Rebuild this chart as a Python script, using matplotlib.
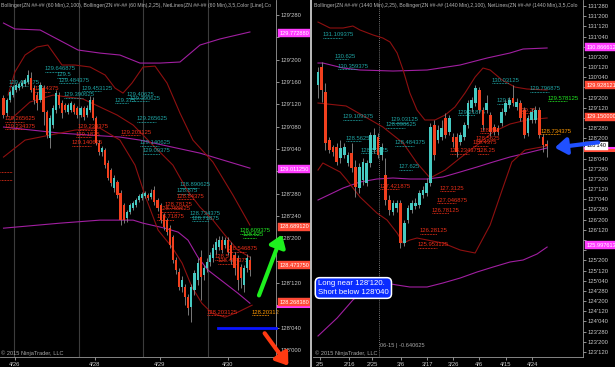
#============================IMPORTS================================
import matplotlib
matplotlib.use("Agg")
import matplotlib.pyplot as plt
import matplotlib.transforms as mtransforms
from matplotlib.patches import FancyArrowPatch
from matplotlib.lines import Line2D
import numpy as np

plt.rcParams['font.family'] = ['Liberation Sans', 'DejaVu Sans']

#============================DATA===================================
# 60 min chart (left) - one entry per bar
left_open = [129.410, 129.326, 129.399, 129.427, 129.455, 129.466, 129.477, 129.489, 129.500, 129.522,
  129.466, 129.427, 129.399, 129.466, 129.332, 129.186, 129.259, 129.343, 129.427, 129.382,
  129.371, 129.332, 129.343, 129.371, 129.354, 129.315, 129.354, 129.315, 129.343, 129.399,
  129.298, 129.158, 129.108, 129.119, 129.046, 129.007, 128.906, 128.940, 128.878, 128.811,
  128.738, 128.772, 128.794, 128.811, 128.839, 128.850, 128.861, 128.867, 128.856, 128.895,
  128.839, 128.811, 128.755, 128.727, 128.682, 128.632, 128.503, 128.436, 128.352, 128.352,
  128.296, 128.240, 128.335, 128.391, 128.520, 128.419, 128.458, 128.492, 128.514, 128.559,
  128.576, 128.615, 128.587, 128.615, 128.587, 128.531, 128.514, 128.464, 128.363, 128.458,
  128.503]
left_close = [129.315, 129.399, 129.444, 129.472, 129.483, 129.489, 129.494, 129.511, 129.539, 129.455,
  129.399, 129.382, 129.483, 129.332, 129.203, 129.298, 129.354, 129.438, 129.371, 129.326,
  129.343, 129.371, 129.382, 129.332, 129.315, 129.354, 129.304, 129.354, 129.399, 129.298,
  129.158, 129.108, 129.130, 129.035, 128.962, 128.934, 128.962, 128.867, 128.727, 128.727,
  128.772, 128.811, 128.822, 128.839, 128.861, 128.873, 128.878, 128.850, 128.878, 128.828,
  128.794, 128.727, 128.688, 128.660, 128.587, 128.503, 128.447, 128.352, 128.391, 128.296,
  128.234, 128.352, 128.430, 128.486, 128.408, 128.458, 128.492, 128.531, 128.570, 128.604,
  128.615, 128.559, 128.615, 128.548, 128.503, 128.458, 128.391, 128.402, 128.458, 128.514,
  128.447]
left_high = [129.427, 129.410, 129.455, 129.483, 129.494, 129.500, 129.511, 129.522, 129.567, 129.556,
  129.483, 129.444, 129.500, 129.483, 129.343, 129.315, 129.371, 129.455, 129.444, 129.399,
  129.382, 129.382, 129.393, 129.382, 129.365, 129.365, 129.365, 129.371, 129.421, 129.416,
  129.309, 129.175, 129.141, 129.130, 129.063, 129.018, 128.979, 128.951, 128.895, 128.822,
  128.783, 128.822, 128.833, 128.850, 128.873, 128.884, 128.889, 128.878, 128.901, 128.917,
  128.850, 128.822, 128.766, 128.738, 128.699, 128.643, 128.520, 128.458, 128.413, 128.369,
  128.313, 128.369, 128.447, 128.514, 128.559, 128.475, 128.514, 128.548, 128.593, 128.626,
  128.637, 128.637, 128.632, 128.632, 128.604, 128.548, 128.531, 128.481, 128.475, 128.537,
  128.525]
left_low = [129.298, 129.309, 129.388, 129.416, 129.444, 129.455, 129.466, 129.477, 129.489, 129.444,
  129.377, 129.343, 129.388, 129.259, 129.186, 129.130, 129.242, 129.326, 129.354, 129.298,
  129.332, 129.321, 129.332, 129.321, 129.298, 129.304, 129.287, 129.304, 129.332, 129.287,
  129.147, 129.091, 129.085, 129.018, 128.951, 128.917, 128.884, 128.850, 128.699, 128.710,
  128.716, 128.761, 128.783, 128.800, 128.828, 128.839, 128.850, 128.839, 128.845, 128.811,
  128.777, 128.710, 128.671, 128.643, 128.570, 128.486, 128.425, 128.335, 128.324, 128.251,
  128.195, 128.156, 128.307, 128.363, 128.279, 128.391, 128.436, 128.469, 128.492, 128.537,
  128.559, 128.542, 128.570, 128.531, 128.481, 128.419, 128.335, 128.346, 128.324, 128.436,
  128.413]

# 60 min bands: (bar, price) knots
left_bb100_up_x = [0, 3.7, 11.9, 24.2, 31.3, 37.8, 44.3, 50.8, 57.3, 63.8, 70.3, 80]
left_bb100_up = [129.830, 129.797, 129.791, 129.679, 129.662, 129.651, 129.606, 129.606, 129.612, 129.707, 129.741, 129.780]
left_bb100_mid_x = [0, 18.3, 37.8, 44.3, 63.8, 80]
left_bb100_mid = [129.248, 129.214, 129.192, 129.175, 129.102, 129.018]
left_bb100_low_x = [0, 18.3, 31.3, 42.1, 45.3, 52.4, 56.7, 59.9, 63.1, 66.4, 71.9, 76.1, 80]
left_bb100_low = [128.682, 128.710, 128.727, 128.727, 128.710, 128.682, 128.660, 128.615, 128.520, 128.447, 128.374, 128.318, 128.262]
left_bb25_up_x = [1.5, 3.7, 7, 10.9, 14.4, 16.7, 19, 23.2, 28.1, 33, 36.2, 38.8, 41.7, 45.3, 49.2, 53.1, 57.3, 61.5, 68, 74.5, 80]
left_bb25_up = [129.427, 129.556, 129.651, 129.696, 129.707, 129.651, 129.595, 129.595, 129.584, 129.539, 129.466,
  129.438, 129.494, 129.584, 129.589, 129.494, 129.326, 129.175, 129.052, 128.867, 128.699]
left_bb25_mid_x = [2.1, 8.6, 16.1, 25.8, 36.9, 42.1, 48.5, 55, 59.6, 63.8, 68, 71.9, 76.1, 80]
left_bb25_mid = [129.287, 129.388, 129.427, 129.405, 129.315, 129.259, 129.147, 129.035, 128.895, 128.800, 128.727, 128.643, 128.559, 128.520]
left_bb25_low_x = [0, 7, 15.1, 23.2, 31.3, 37.8, 42.7, 45.9, 50.2, 54.7, 58, 61.2, 64.4, 67.7, 71.9, 76.1, 80.7]
left_bb25_low = [129.080, 129.175, 129.203, 129.231, 129.242, 129.175, 129.035, 128.867, 128.671, 128.576, 128.486,
  128.352, 128.262, 128.206, 128.184, 128.212, 128.251]

left_dates = ['4/26', '4/28', '4/29', '4/30']
left_date_bars = [3.7, 29.7, 50.8, 72.9]
left_day_breaks = [3.4, 24.5, 45.3, 66.4]

# daily chart (right)
right_open = [129.934, 130.376, 129.762, 128.582, 128.410, 128.410, 128.140, 128.214, 128.017, 128.263,
  127.919, 127.403, 127.599, 127.526, 128.017, 128.336, 128.656, 128.214, 127.722, 127.108,
  126.813, 126.911, 127.034, 126.051, 126.617, 126.862, 126.961, 126.985, 127.231, 127.280,
  127.526, 128.951, 128.582, 128.656, 129.123, 128.779, 128.656, 128.656, 128.533, 128.656,
  128.951, 129.368, 129.491, 129.811, 129.319, 129.319, 129.196, 128.902, 128.877, 129.000,
  129.270, 129.442, 129.614, 129.393, 129.491, 129.319, 128.754, 129.074, 129.074, 129.319,
  128.656, 128.480]
right_close = [130.253, 129.811, 128.508, 128.336, 128.287, 128.042, 128.386, 128.410, 128.214, 127.894,
  127.427, 127.919, 128.042, 128.017, 128.705, 128.705, 128.214, 128.410, 127.108, 126.862,
  127.034, 127.034, 126.051, 126.543, 126.911, 127.034, 127.034, 127.280, 127.354, 127.526,
  128.902, 128.214, 128.828, 128.877, 128.705, 129.123, 128.533, 128.287, 128.705, 128.951,
  129.491, 129.565, 129.860, 129.319, 128.951, 129.491, 128.779, 128.779, 128.779, 129.270,
  129.491, 129.565, 129.491, 129.516, 129.123, 128.705, 129.123, 129.270, 129.319, 128.705,
  128.459, 128.4375]
right_high = [130.376, 130.499, 129.983, 128.656, 128.459, 128.508, 128.582, 128.508, 128.287, 128.508,
  128.091, 128.017, 128.140, 128.091, 128.779, 128.877, 128.754, 128.508, 128.140, 127.231,
  127.108, 127.108, 127.108, 126.617, 126.985, 127.108, 127.157, 127.354, 127.452, 127.649,
  129.000, 129.074, 128.951, 129.074, 129.246, 129.196, 128.754, 128.754, 128.779, 129.024,
  129.565, 129.639, 129.934, 129.884, 129.393, 129.688, 129.270, 128.975, 128.951, 129.368,
  129.565, 129.639, 129.934, 129.614, 129.565, 129.393, 129.196, 129.368, 129.418, 129.393,
  128.730, 128.582]
right_low = [129.614, 129.516, 128.336, 128.263, 128.189, 127.968, 128.017, 128.140, 127.943, 127.796,
  127.182, 127.280, 127.477, 127.452, 127.919, 128.263, 128.140, 128.091, 126.985, 126.739,
  126.739, 126.813, 125.929, 125.978, 126.543, 126.789, 126.887, 126.911, 127.157, 127.206,
  127.452, 128.091, 128.508, 128.582, 128.631, 128.705, 128.410, 128.165, 128.459, 128.582,
  128.877, 129.270, 129.418, 129.246, 128.828, 129.246, 128.680, 128.705, 128.705, 128.926,
  129.196, 129.368, 129.418, 129.319, 129.049, 128.631, 128.680, 129.000, 129.000, 128.631,
  128.287, 128.165]

right_bb100_up_x = [0, 1.3, 6.7, 11.2, 20, 29.1, 37.9, 45.1, 51.2, 54.7, 61.1]
right_bb100_up = [130.474, 130.474, 130.351, 130.302, 130.277, 130.302, 130.425, 130.597, 130.720, 130.818, 130.843]
right_bb100_mid_x = [0, 6.7, 11.2, 15.7, 20, 24.5, 29.1, 33.3, 37.9, 42.4, 46.7, 51.2, 55.7, 61.1]
right_bb100_mid = [127.108, 127.403, 127.550, 127.624, 127.649, 127.624, 127.624, 127.673, 127.796, 127.919, 128.042, 128.165, 128.263, 128.386]
right_bb100_low_x = [0, 5.1, 9.3, 13.1, 16.5, 21.1, 24.5, 29.1, 33.3, 37.9, 42.4, 46.7, 51.2, 54.7, 58.4, 61.1]
right_bb100_low = [123.767, 124.209, 124.651, 124.971, 125.093, 125.019, 124.971, 124.971, 125.069, 125.191, 125.339,
  125.462, 125.585, 125.634, 125.781, 125.953]
right_bb25_up_x = [0, 3.2, 6.7, 9.3, 11.2, 14.7, 17.3, 19.2, 21.1, 22.7, 24.5, 26.4, 28.5, 31.2, 33.9, 36.5,
  39.2, 41.9, 44, 45.9, 49.1, 52.5, 55.7, 61.1]
right_bb25_up = [131.481, 131.334, 131.334, 131.383, 131.285, 131.162, 131.088, 130.990, 130.720, 130.302, 129.737,
  129.319, 129.074, 129.074, 129.196, 129.393, 129.737, 130.130, 130.351, 130.302, 130.056, 129.884, 129.835, 129.811]
right_bb25_mid_x = [0, 7.5, 13.1, 17.3, 22.7, 26.4, 29.9, 33.9, 37.9, 42.4, 46.7, 51.2, 55.7, 61.1]
right_bb25_mid = [129.491, 129.418, 129.123, 128.902, 128.508, 128.017, 127.649, 127.845, 128.140, 128.459, 128.779,
  128.975, 129.074, 129.123]
right_bb25_low_x = [0, 1.3, 5.9, 7.7, 11.2, 15.7, 18.4, 21.1, 22.7, 24.5, 26.4, 33.3, 37.9, 41.9, 45.9, 49.1,
  51.7, 55.2, 61.1]
right_bb25_low = [127.845, 128.017, 127.796, 127.599, 127.182, 126.789, 126.617, 126.297, 126.051, 126.125, 126.174,
  126.051, 125.880, 125.806, 126.494, 127.354, 128.042, 128.336, 128.435]

right_dates = ['2/5', '2/16', '2/25', '3/6', '3/17', '3/26', '4/6', '4/15', '4/24']
right_date_bars = [0.5, 8.3, 14.4, 22.1, 29.1, 36, 42.9, 50.1, 57.1]
right_session_break = 16.3

# levels from the note
long_level = 128.375
short_level = 128.125

# NetLines labels: (text, x px, y px)
left_teal_labels = [("129.646875", 45, 69), ("129.5", 57, 75), ("129.484375", 59, 80), ("129.453125", 82, 88),
  ("129.484375", 9, 83), ("129.40625", 127, 95), ("129.390625", 130, 98), ("129.375", 115, 100),
  ("129.390625", 64, 95), ("129.265625", 137, 119), ("129.140625", 140, 143), ("129.09375", 143, 151),
  ("128.890625", 180, 185), ("128.875", 177, 191), ("128.734375", 190, 214), ("128.71875", 192, 218)]
left_red_labels = [("129.4375", 35, 89), ("129.265625", 5, 119), ("129.234375", 5, 126), ("129.234375", 78, 127),
  ("129.1875", 76, 134), ("129.140625", 72, 143), ("129.203125", 121, 132), ("128.84375", 177, 196),
  ("128.78125", 165, 205), ("128.765625", 160, 209), ("128.71875", 157, 217), ("128.546875", 227, 249),
  ("128.5", 215, 257), ("128.484375", 218, 261), ("128.203125", 207, 312)]
left_orange_labels = [("128.20312", 252, 312)]
left_green_labels = [("128.609375", 240, 231), ("128.625", 243, 235)]

right_teal_labels = [("131.109375", 323, 35), ("130.625", 335, 56), ("130.359375", 338, 66), ("129.109375", 343, 117),
  ("129.03125", 391, 120), ("128.890625", 386, 125), ("128.5625", 346, 138), ("128.53125", 361, 150),
  ("128.484375", 395, 143), ("127.625", 399, 167), ("130.03125", 492, 80), ("129.796875", 530, 89),
  ("129.5", 497, 101), ("129.21875", 458, 112)]
right_red_labels = [("127.421875", 380, 186), ("127.3125", 440, 188), ("127.046875", 437, 200), ("126.78125", 432, 210),
  ("126.28125", 420, 231), ("125.953125", 418, 245), ("128.75", 480, 130), ("128.5625", 476, 138),
  ("128.4375", 473, 143), ("128.234375", 450, 151), ("128.25", 478, 151), ("129.25", 519, 110)]
right_orange_labels = [("128.734375", 541, 131)]
right_green_labels = [("129.578125", 548, 98)]

# price tags on the axes: (price, text, colour)
left_tags = [(129.772880, "129.772880", "#ff3cff"), (129.011250, "129.011250", "#ff3cff"),
  (128.689120, "128.689120", "#ff4a36"), (128.473750, "128.473750", "#ff4a36"),
  (128.268380, "128.268380", "#ff4a36")]
left_strips = [(128.246, "#ff3cff")]
right_tags = [(130.866612, "130.866612", "#ff3cff"), (129.928121, "129.928121", "#ff4a36"),
  (129.150000, "129.150000", "#ff4a36"), (128.4375, "128'140", "#ffffff"), (125.997613, "125.997613", "#ff3cff")]
right_strips = [(128.385, "#ff3cff"), (128.33, "#ff4a36")]

left_title = "Bollinger(ZN ##-## (60 Min),2,100), Bollinger(ZN ##-## (60 Min),2,25), NetLines(ZN ##-## (60 Min),3,5,Color [Line],Co"
right_title = "Bollinger(ZN ##-## (1440 Min),2,25), Bollinger(ZN ##-## (1440 Min),2,100), NetLines(ZN ##-## (1440 Min),3,5,Colo"

#============================STYLE==================================
W, H = 615, 367
TEAL = '#46cac2'
RED = '#f2401e'
WICK = '#8c8c8c'
PURPLE = '#a11fa1'
DARKRED = '#8e1010'
TXT_TEAL = '#1fa3a3'
TXT_RED = '#ea2e18'
AXIS = '#c8c8c8'

def fx(x):
  return x / W

def fy(y):
  return 1 - y / H

#============================FUNCTIONS==============================
def fmt32(p, pos=None):
  whole = int(np.floor(p + 1e-9))
  frac = int(round((p - whole) * 320))
  return "%d'%03d" % (whole, frac)

def drawCandles(ax, o, c, h, l, width, minh):
  o = np.array(o); c = np.array(c)
  idx = np.arange(len(o))
  colors = np.where(c >= o, TEAL, RED)
  ax.vlines(idx, l, h, color=WICK, lw=0.6, zorder=3)
  ax.bar(idx, np.maximum(np.abs(c - o), minh), bottom=np.minimum(o, c), width=width,
         color=colors, linewidth=0, zorder=4)

def netLabels(ax, labels, color):
  for txt, x, y in labels:
    ax.text(fx(x), fy(y), txt, transform=ax.figure.transFigure, fontsize=4.2, color=color,
            ha='left', va='center', zorder=2, clip_on=False)
    ax.add_line(Line2D([fx(x), fx(x + len(txt) * 1.9)], [fy(y + 3.2)] * 2, transform=ax.figure.transFigure,
                       color=color, lw=0.7, ls=(0, (0.8, 0.8)), zorder=2, clip_on=False))

def tags(ax, items, strips):
  tr = mtransforms.blended_transform_factory(ax.transAxes, ax.transData)
  # partly hidden tags underneath: only their coloured edge shows
  for price, col in strips:
    ax.add_line(Line2D([1.008, 1.118], [price, price], transform=tr, color=col, lw=2.2,
                       zorder=19, clip_on=False))
  for price, txt, col in items:
    tc = 'black' if col == '#ffffff' else 'white'
    ax.text(1.012, price, txt, transform=tr, fontsize=4.1, color=tc, ha='left', va='center', zorder=20,
            clip_on=False, bbox=dict(boxstyle='square,pad=0.25', fc=col, ec=col, lw=0.3))

def styleAxes(ax, yticks, xticks, xlabels, tag_prices, hide_within):
  ax.set_facecolor('black')
  for s in ['top', 'left']:
    ax.spines[s].set_visible(False)
  for s in ['right', 'bottom']:
    ax.spines[s].set_color('#9a9a9a')
    ax.spines[s].set_linewidth(0.6)
  ax.yaxis.tick_right()
  ax.set_yticks(yticks)
  # price labels sitting under a tag are covered by it
  ax.set_yticklabels(['' if min(abs(t - p) for p in tag_prices) < hide_within else fmt32(t) for t in yticks])
  ax.set_xticks(xticks)
  ax.set_xticklabels(xlabels)
  ax.tick_params(colors=AXIS, labelsize=4.2, length=2, width=0.5, pad=1.5)

#==============================MAIN=================================
def main():
  fig = plt.figure(figsize=(W / 100, H / 100), dpi=100, facecolor='black')

  # ---------- left: 60 min ----------
  axl = fig.add_axes([0, 10 / H, 276 / W, 357 / H])
  axl.set_xlim(-1.136, 88.47)
  axl.set_ylim(127.961, 129.959)
  styleAxes(axl, np.arange(128.0, 129.9, 0.125), left_date_bars, left_dates,
            [t[0] for t in left_tags], 0.034)
  for b in left_day_breaks:
    axl.axvline(b, color='#3c3c3c', lw=0.8, zorder=1)
  axl.plot(left_bb100_up_x, left_bb100_up, color=PURPLE, lw=0.8, zorder=2)
  axl.plot(left_bb100_mid_x, left_bb100_mid, color=PURPLE, lw=0.8, zorder=2)
  axl.plot(left_bb100_low_x, left_bb100_low, color=PURPLE, lw=0.8, zorder=2)
  axl.plot(left_bb25_up_x, left_bb25_up, color=DARKRED, lw=0.8, zorder=2)
  axl.plot(left_bb25_mid_x, left_bb25_mid, color=DARKRED, lw=0.8, zorder=2)
  axl.plot(left_bb25_low_x, left_bb25_low, color=DARKRED, lw=0.8, zorder=2)
  netLabels(axl, left_teal_labels, TXT_TEAL)
  netLabels(axl, left_red_labels, TXT_RED)
  netLabels(axl, left_orange_labels, '#ff9800')
  netLabels(axl, left_green_labels, '#22e622')
  drawCandles(axl, left_open, left_close, left_high, left_low, 0.68, 0.006)
  axl.plot([69.6, 88.47], [short_level, short_level], color='#0a14ff', lw=2, zorder=6, clip_on=False)
  tags(axl, left_tags, left_strips)
  for yy in [172, 180]:
    fig.add_artist(Line2D([fx(0), fx(12)], [fy(yy)] * 2, color=TXT_RED, lw=0.7, ls=(0, (0.8, 0.8))))

  # ---------- right: daily ----------
  axr = fig.add_axes([313 / W, 10 / H, 270 / W, 357 / H])
  axr.set_xlim(-1.333, 70.67)
  axr.set_ylim(123.251, 132.022)
  styleAxes(axr, np.arange(123.375, 131.9, 0.25), right_date_bars, right_dates,
            [t[0] for t in right_tags], 0.147)
  axr.axvline(right_session_break, color='#9a9a9a', lw=0.6, ls=(0, (1, 1.5)), zorder=1)
  axr.plot(right_bb100_up_x, right_bb100_up, color=PURPLE, lw=0.8, zorder=2)
  axr.plot(right_bb100_mid_x, right_bb100_mid, color=PURPLE, lw=0.8, zorder=2)
  axr.plot(right_bb100_low_x, right_bb100_low, color=PURPLE, lw=0.8, zorder=2)
  axr.plot(right_bb25_up_x, right_bb25_up, color=DARKRED, lw=0.8, zorder=2)
  axr.plot(right_bb25_mid_x, right_bb25_mid, color=DARKRED, lw=0.8, zorder=2)
  axr.plot(right_bb25_low_x, right_bb25_low, color=DARKRED, lw=0.8, zorder=2)
  netLabels(axr, right_teal_labels, TXT_TEAL)
  netLabels(axr, right_red_labels, TXT_RED)
  netLabels(axr, right_orange_labels, '#ff9800')
  netLabels(axr, right_green_labels, '#22e622')
  drawCandles(axr, right_open, right_close, right_high, right_low, 0.72, 0.03)
  tags(axr, right_tags, right_strips)

  # ---------- texts & annotations ----------
  fig.add_artist(Line2D([fx(311), fx(311)], [0, 1], color='#bdbdbd', lw=1.4))
  fig.text(fx(1), fy(5), left_title, fontsize=3.7, color='#b4b4b4', va='center', ha='left')
  fig.text(fx(314), fy(5), right_title, fontsize=3.7, color='#b4b4b4', va='center', ha='left')
  fig.text(fx(1), fy(353), "\u00a9 2015 NinjaTrader, LLC", fontsize=4.1, color='#a8a8a8', va='center')
  fig.text(fx(315), fy(353), "\u00a9 2015 NinjaTrader, LLC", fontsize=4.1, color='#a8a8a8', va='center')
  fig.text(fx(380), fy(346), "06-15 | -0.640625", fontsize=4.1, color='#a8a8a8', va='center')
  fig.text(fx(318), fy(288), "Long near %s.\nShort below %s" % (fmt32(long_level), fmt32(short_level)),
           fontsize=5.6, color='white', va='center', ha='left', linespacing=1.25,
           bbox=dict(boxstyle='round,pad=0.35,rounding_size=0.6', fc='#0a2cff', ec='white', lw=1.1))

  for (x0, y0, x1, y1, col) in [(258, 298, 283, 232, '#1ef01e'), (263, 331, 290, 368, '#ff3a12'),
                                (601, 142, 552, 148, '#2050ff')]:
    fig.add_artist(FancyArrowPatch((fx(x0), fy(y0)), (fx(x1), fy(y1)), transform=fig.transFigure,
                                   arrowstyle='-|>,head_length=0.5,head_width=0.35', mutation_scale=14,
                                   lw=3, color=col, zorder=30))

  fig.savefig("out.png", dpi=100, facecolor='black')

#===================================================================
if __name__ == "__main__":
  main()
